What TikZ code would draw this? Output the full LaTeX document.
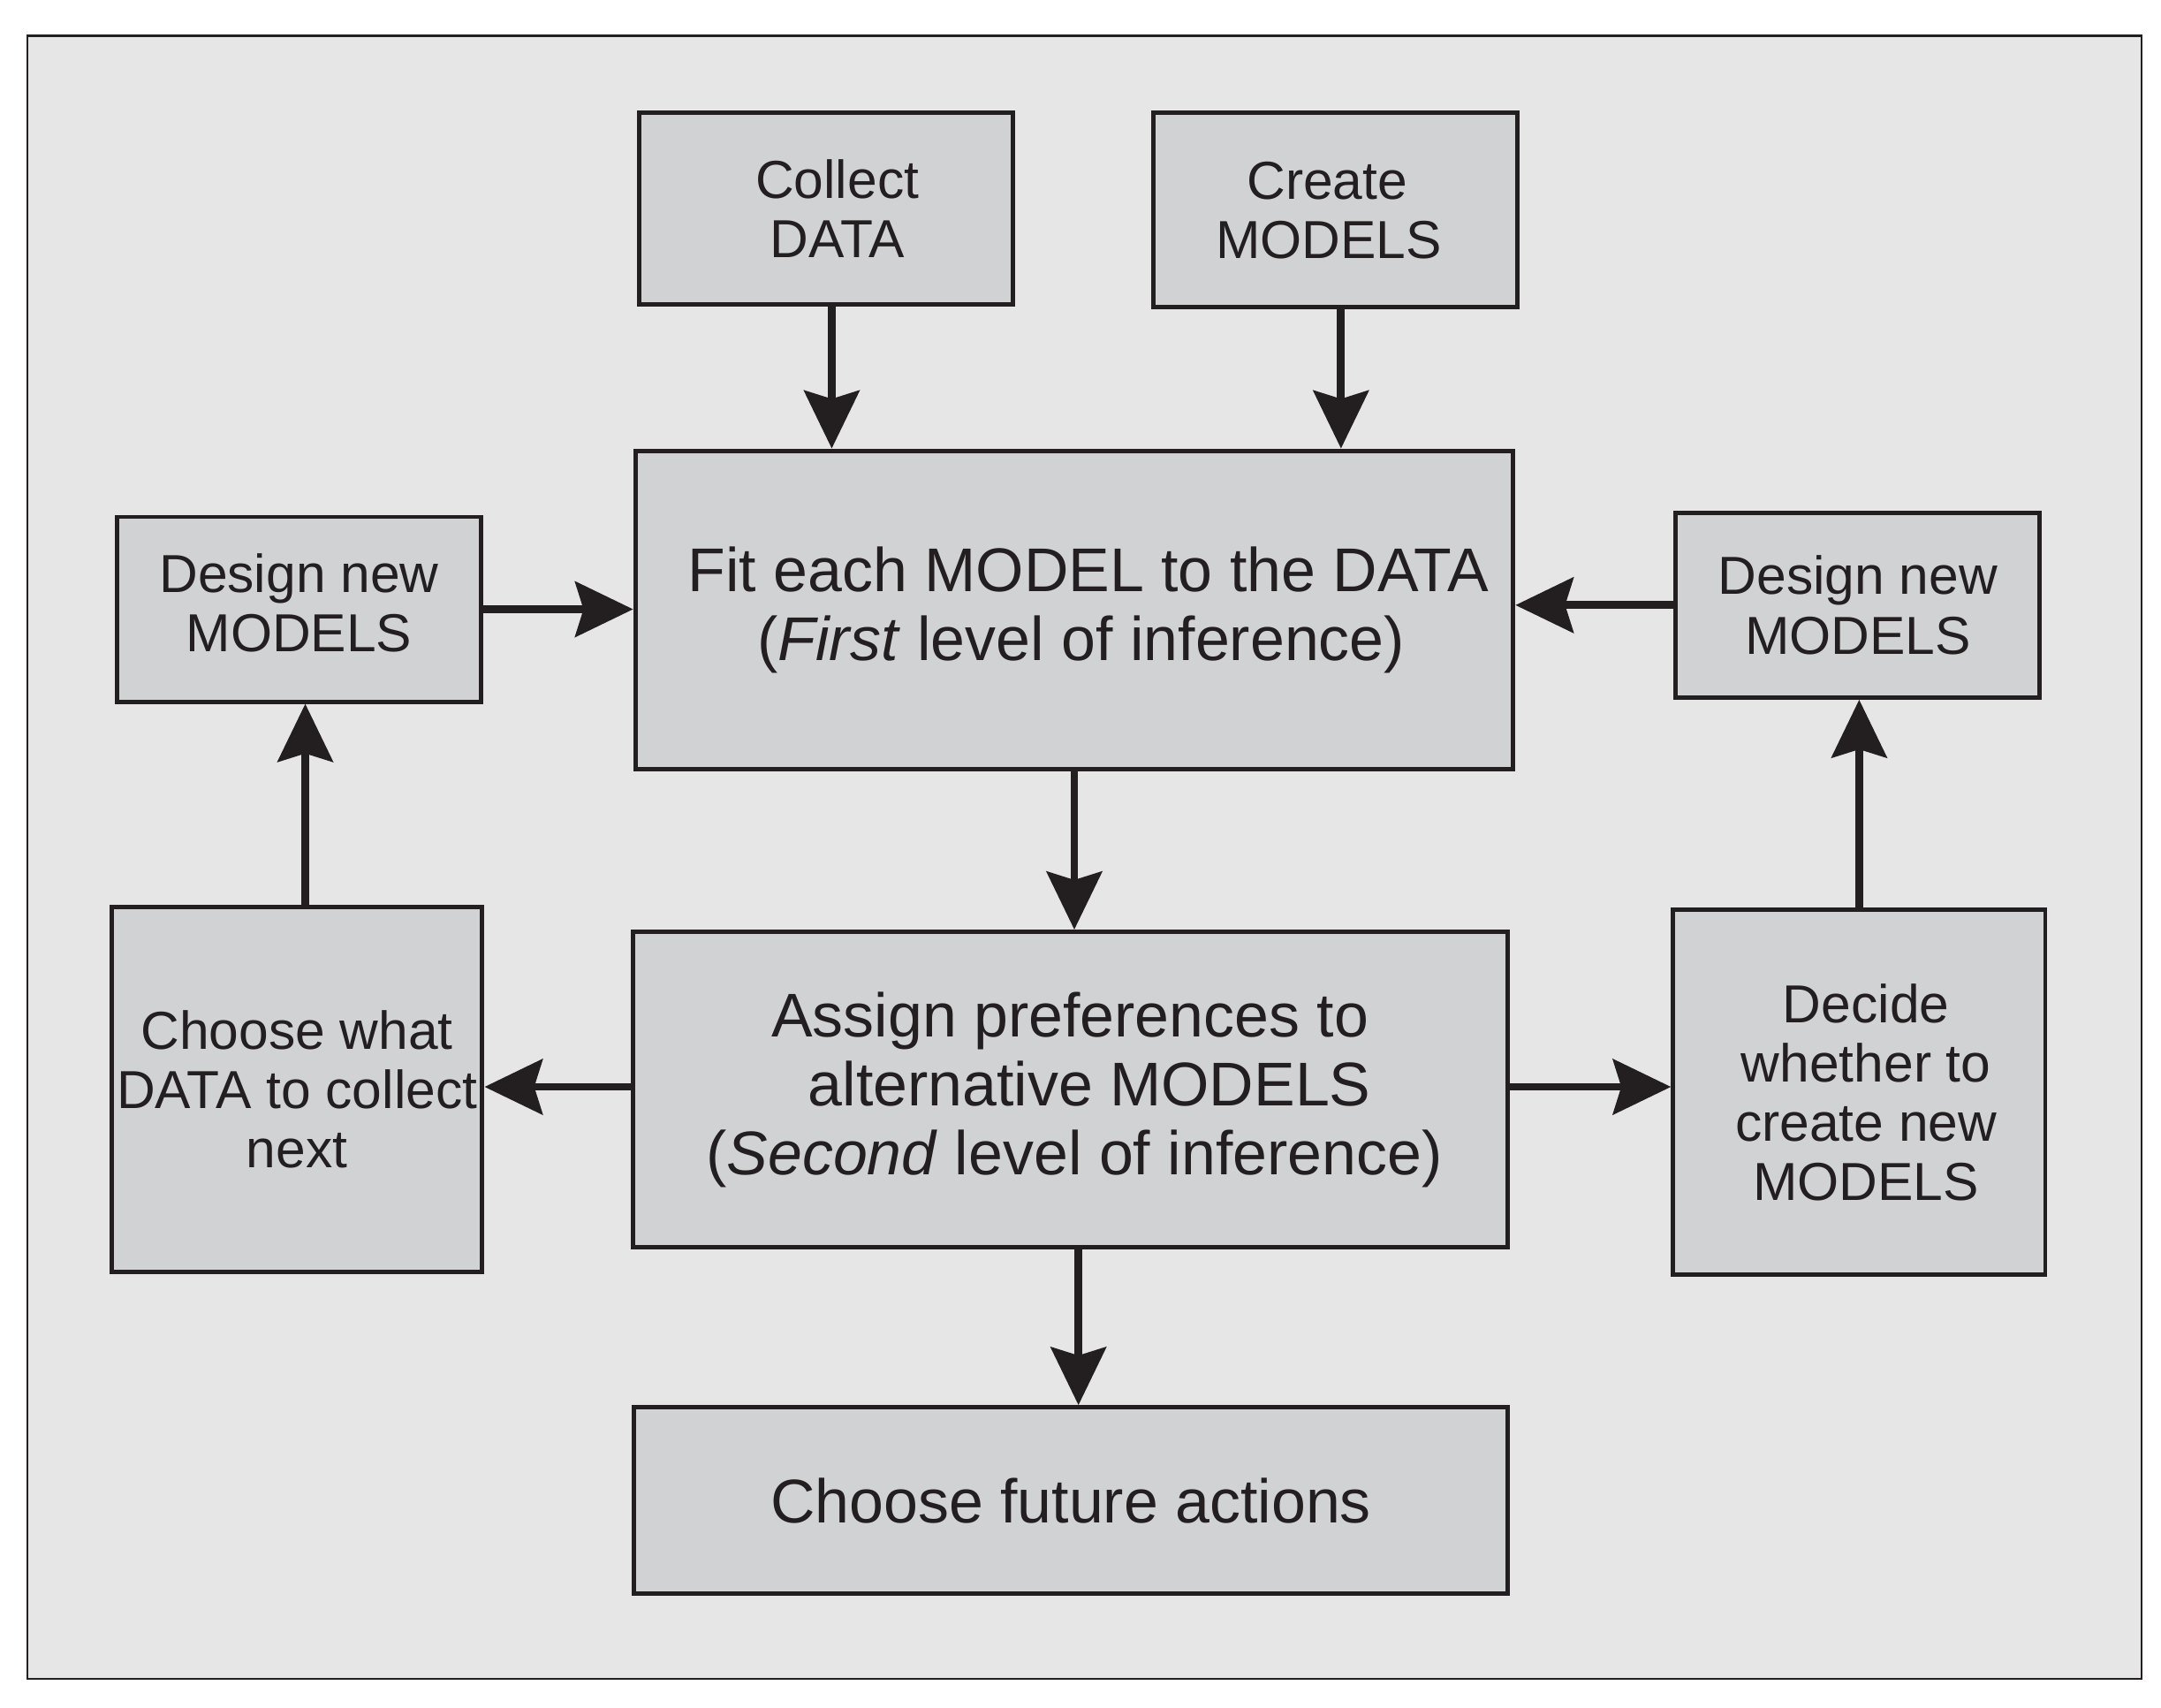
\documentclass[tikz,border=0pt]{standalone}
\usepackage{fontspec}
\setmainfont{Liberation Sans}
\usetikzlibrary{arrows.meta}
\definecolor{ink}{HTML}{231F20}
\definecolor{bgfill}{HTML}{E6E6E6}
\definecolor{boxfill}{HTML}{D1D2D4}
\begin{document}
\begin{tikzpicture}[x=0.5pt,y=-0.5pt,
  box/.style={draw=ink, fill=boxfill, line width=1.6pt, inner sep=0pt, align=center, text=ink},
  small/.style={font=\fontsize{19.4pt}{21.5pt}\selectfont},
  big/.style={font=\fontsize{22.4pt}{25pt}\selectfont},
  arr/.style={draw=ink, line width=2.8pt, -{Stealth[length=21pt,width=20pt,inset=3pt]}}]
\useasboundingbox (0,0) rectangle (1568,1239);
\fill[white] (0,0) rectangle (1568,1239);
\draw[ink, fill=bgfill, line width=0.7pt] (20,26) rectangle (1554,1218);

\node[box, small, minimum width=135.5pt, minimum height=69.5pt] (collect) at (599.5,151.5) {\hspace*{8pt}Collect\\\hspace*{8pt}DATA};
\node[box, small, minimum width=132pt, minimum height=70.5pt] (create) at (969,152.5) {Create\hspace*{6pt}\\MODELS\hspace*{5pt}};
\node[box, big, minimum width=318.5pt, minimum height=115.5pt] (fit) at (779.5,442.5) {\hspace*{10pt}Fit each MODEL to the DATA\\\hspace*{5pt}(\textit{First} level of inference)};
\node[box, small, minimum width=132pt, minimum height=67pt] (dl) at (217,442) {Design new\\MODELS\\[-16.5pt]\mbox{}};
\node[box, small, minimum width=132pt, minimum height=67pt] (dr) at (1348,439) {Design new\\MODELS};
\node[box, small, minimum width=134.5pt, minimum height=132.5pt] (cw) at (215.5,790.5) {Choose what\\DATA to collect\\next};
\node[box, big, minimum width=317.5pt, minimum height=114.5pt] (assign) at (776.5,790.5) {Assign preferences to\\\hspace*{14pt}alternative MODELS\\\hspace*{3pt}(\textit{Second} level of inference)};
\node[box, small, minimum width=135pt, minimum height=132.5pt] (decide) at (1349,792.5) {\hspace*{5pt}Decide\\\hspace*{5pt}whether to\\\hspace*{5pt}create new\\\hspace*{5pt}MODELS};
\node[box, big, minimum width=317pt, minimum height=67.5pt] (future) at (777,1088.5) {Choose future actions};

\draw[arr] ([xshift=2pt]collect.south) -- ([xshift=2pt]collect.south |- fit.north);
\draw[arr] ([xshift=2pt]create.south) -- ([xshift=2pt]create.south |- fit.north);
\draw[arr] (dl.east) -- (dl.east -| fit.west);
\draw[arr] (dr.west) -- (dr.west -| fit.east);
\draw[arr] (fit.south) -- (fit.south |- assign.north);
\draw[arr] ([xshift=3pt]cw.north) -- ([xshift=3pt]cw.north |- dl.south);
\draw[arr] (decide.north) -- (decide.north |- dr.south);
\draw[arr] ([yshift=1pt]assign.west) -- ([yshift=1pt]assign.west -| cw.east);
\draw[arr] ([yshift=1pt]assign.east) -- ([yshift=1pt]assign.east -| decide.west);
\draw[arr] ([xshift=3pt]assign.south) -- ([xshift=3pt]assign.south |- future.north);
\end{tikzpicture}
\end{document}
